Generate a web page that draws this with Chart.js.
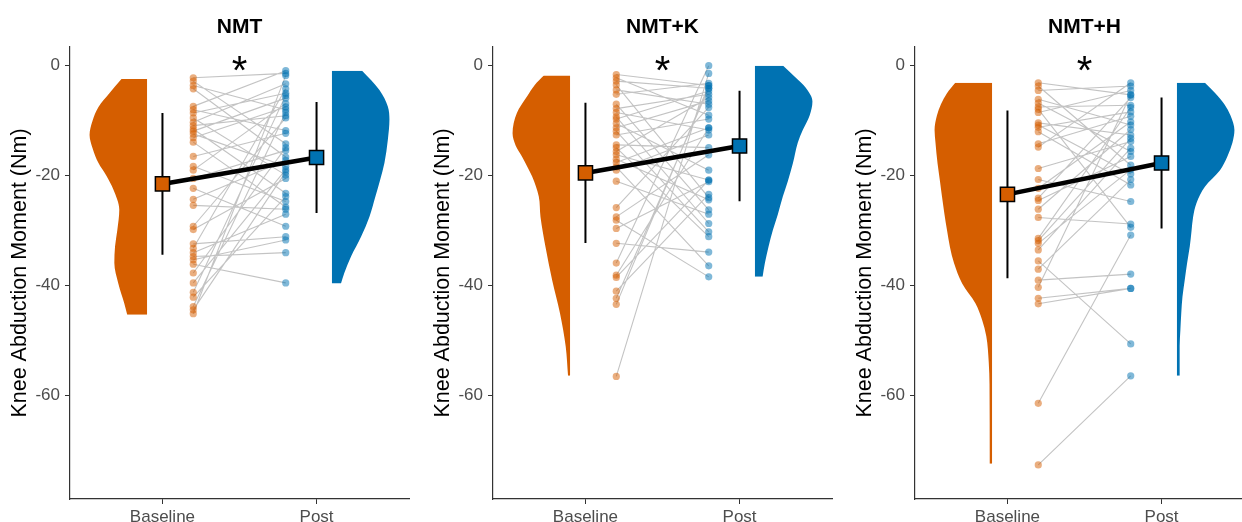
<!DOCTYPE html>
<html>
<head>
<meta charset="utf-8">
<script src="https://cdn.jsdelivr.net/npm/chart.js@4.4.1/dist/chart.umd.min.js"></script>
<style>
  html, body { margin: 0; padding: 0; background: #ffffff; width: 1242px; height: 522px; overflow: hidden; }
  .panel { position: absolute; top: 0; width: 422px; height: 522px; }
</style>
</head>
<body>
<div class="panel" style="left:0px"><canvas id="panel0" width="422" height="522"></canvas></div>
<div class="panel" style="left:423px"><canvas id="panel1" width="422" height="522"></canvas></div>
<div class="panel" style="left:845px"><canvas id="panel2" width="422" height="522"></canvas></div>
<script>
// ---- data -------------------------------------------------------------
const categories = ['Baseline', 'Post'];
const panelTitles = ['NMT', 'NMT+K', 'NMT+H'];
const significance = ['*', '*', '*'];
const yTickValues = [0, -20, -40, -60];
const yLabel = 'Knee Abduction Moment (Nm)';

// paired knee abduction moments (Nm), one entry per participant
const nmtBaseline = [-2.2, -2.8, -3.6, -4.2, -7.4, -8.0, -8.6, -9.5, -10.3, -10.9, -11.5, -11.9, -12.4, -13.1, -13.9, -16.5, -18.3, -19.0, -20.5, -22.3, -24.3, -25.4, -29.2, -29.8, -32.4, -33.2, -34.0, -34.7, -35.3, -36.1, -37.7, -39.5, -41.2, -42.1, -43.8, -44.4, -45.1];
const nmtPost     = [-1.4, -14.2, -8.0, -16.6, -0.9, -11.8, -5.0, -19.9, -3.3, -9.1, -23.2, -5.9, -18.3, -7.5, -25.7, -12.3, -24.7, -6.9, -15.4, -29.2, -17.2, -26.1, -9.5, -20.5, -31.1, -4.2, -27.0, -34.0, -31.7, -39.5, -14.9, -18.9, -5.4, -23.8, -8.5, -19.3, -1.8];

const nmtkBaseline = [-1.6, -2.2, -2.8, -3.5, -4.4, -5.2, -7.0, -7.8, -8.5, -9.3, -9.7, -10.5, -11.3, -11.9, -12.6, -14.4, -14.9, -15.6, -16.2, -17.0, -17.6, -18.4, -19.0, -21.0, -25.8, -27.5, -28.1, -29.6, -32.3, -35.9, -38.1, -38.5, -41.0, -42.3, -43.4, -56.5];
const nmtkPost     = [-3.6, -9.0, -4.1, -24.0, -7.0, -3.2, -26.2, -5.2, -11.7, -28.7, -4.6, -19.0, -6.4, -30.2, -9.7, -14.9, -31.1, -5.8, -20.8, -24.4, -11.3, -36.4, -12.6, -27.0, -7.6, -16.2, -38.4, -21.1, -33.9, 0.0, -11.3, -20.8, -23.4, -4.1, -3.6, -1.4];

const nmthBaseline = [-3.1, -3.7, -4.5, -6.1, -6.8, -7.5, -7.9, -8.5, -10.4, -10.8, -11.2, -12.0, -14.2, -14.8, -18.7, -20.7, -22.3, -24.1, -24.5, -26.1, -27.6, -31.4, -31.8, -32.3, -33.5, -35.5, -37.0, -39.0, -40.3, -42.3, -43.3, -61.4, -72.6];
const nmthPost     = [-5.3, -18.1, -3.7, -10.8, -15.6, -7.2, -29.4, -4.5, -12.6, -19.7, -8.4, -21.7, -9.2, -3.1, -13.8, -24.7, -10.2, -5.8, -16.5, -11.6, -28.8, -7.6, -13.2, -18.9, -15.0, -50.6, -20.7, -37.9, -5.3, -40.5, -40.5, -30.8, -56.4];

// group means and standard deviations
const meanBaseline = [-21.5, -19.5, -23.4];
const meanPost     = [-16.7, -14.6, -17.7];
const sdBaseline   = [12.9, 12.75, 15.25];
const sdPost       = [10.1, 10.05, 11.9];

// density profiles (relative to each group's peak) at the listed moment values
const nmtBaselineDensityAt = [-2.4, -5, -7.5, -10, -12.6, -15, -17.7, -20, -22.5, -26.2, -29.9, -32.9, -35.9, -39.6, -43.2, -45.3];
const nmtBaselineDensity   = [0.443, 0.655, 0.845, 0.948, 1, 0.948, 0.845, 0.707, 0.586, 0.483, 0.517, 0.557, 0.569, 0.5, 0.397, 0.345];
const nmtPostDensityAt = [-0.9, -4.4, -7.4, -9.8, -13.5, -17.7, -20.8, -23.8, -27.5, -31.1, -34.7, -37.7, -39.6];
const nmtPostDensity   = [0.524, 0.826, 0.972, 1, 0.972, 0.913, 0.838, 0.756, 0.651, 0.506, 0.332, 0.215, 0.157];

const nmtkBaselineDensityAt = [-1.8, -3.5, -5.6, -8.6, -12.3, -14.5, -16.5, -18.5, -20.1, -23.8, -27.5, -33, -39, -45, -51.1, -56.4];
const nmtkBaselineDensity   = [0.456, 0.614, 0.749, 0.925, 1, 0.947, 0.837, 0.737, 0.661, 0.544, 0.514, 0.426, 0.311, 0.175, 0.075, 0.035];
const nmtkPostDensityAt = [0, -2, -4, -6.5, -9, -11.7, -14, -17.8, -21, -23.8, -27, -29.9, -33, -35.9, -38.4];
const nmtkPostDensity   = [0.49, 0.693, 0.884, 1, 0.953, 0.832, 0.745, 0.659, 0.572, 0.485, 0.399, 0.312, 0.234, 0.173, 0.133];

const nmthBaselineDensityAt = [-3.1, -5, -7, -9, -11.7, -14, -17.8, -21, -23.8, -27, -29.9, -33, -35.9, -39.6, -43.2, -46.2, -49.2, -54, -58, -72.4];
const nmthBaselineDensity   = [0.639, 0.784, 0.889, 0.958, 1, 0.984, 0.948, 0.906, 0.871, 0.828, 0.784, 0.732, 0.662, 0.52, 0.29, 0.174, 0.1, 0.057, 0.044, 0.04];
const nmthPostDensityAt = [-3.1, -5, -7, -9, -11.7, -14, -16.5, -19, -22, -25, -27.5, -30, -32.9, -36, -39, -42, -45, -48, -51, -56.4];
const nmthPostDensity   = [0.486, 0.667, 0.825, 0.93, 1, 0.965, 0.877, 0.749, 0.486, 0.339, 0.281, 0.254, 0.223, 0.175, 0.135, 0.096, 0.075, 0.06, 0.047, 0.047];

// ---- styling / geometry -----------------------------------------------
const FONT = '"Liberation Sans", Arial, Helvetica, sans-serif';
const ORANGE = '#D55E00';
const BLUE = '#0072B2';
const ORANGE_DOT = 'rgba(213, 94, 0, 0.5)';
const BLUE_DOT = 'rgba(0, 114, 178, 0.5)';
const PAIR_LINE = 'rgba(175, 175, 175, 0.75)';
const AXIS_COLOR = '#333333';
const TICK_TEXT = '#4D4D4D';
const Y_MIN = -78.8, Y_MAX = 3.4;
const X_MIN = 0.4, X_MAX = 2.6;
const VIOLIN_HALF = 0.373;      // half-violin width at peak density, x units
const BASE_VIOLIN_EDGE = 0.9;   // flat side of the baseline half-violin
const POST_VIOLIN_EDGE = 2.1;   // flat side of the post half-violin
const BASE_DOT_X = 1.2;
const POST_DOT_X = 1.8;

Chart.defaults.font.family = FONT;
Chart.defaults.animation = false;

const panels = [
  { base: nmtBaseline,  post: nmtPost,  bAt: nmtBaselineDensityAt,  bD: nmtBaselineDensity,  pAt: nmtPostDensityAt,  pD: nmtPostDensity },
  { base: nmtkBaseline, post: nmtkPost, bAt: nmtkBaselineDensityAt, bD: nmtkBaselineDensity, pAt: nmtkPostDensityAt, pD: nmtkPostDensity },
  { base: nmthBaseline, post: nmthPost, bAt: nmthBaselineDensityAt, bD: nmthBaselineDensity, pAt: nmthPostDensityAt, pD: nmthPostDensity }
];

// outline of a half violin; the fill runs horizontally back to the flat edge
function violinOutline(levels, density, edge, side) {
  return levels.map((y, i) => ({ x: edge + side * density[i] * VIOLIN_HALF, y }));
}

function pairLines(base, post) {
  const pts = [];
  base.forEach((b, i) => {
    pts.push({ x: BASE_DOT_X, y: b });
    pts.push({ x: POST_DOT_X, y: post[i] });
    pts.push({ x: 1.5, y: null });
  });
  return pts;
}

// panel title and significance marker, centred over the plotting area
const panelText = {
  id: 'panelText',
  afterDraw(chart, args, opts) {
    const { ctx, chartArea, scales } = chart;
    const cx = (chartArea.left + chartArea.right) / 2;
    ctx.save();
    ctx.fillStyle = '#000000';
    ctx.textAlign = 'center';
    ctx.textBaseline = 'alphabetic';
    ctx.font = 'bold 21px ' + FONT;
    ctx.fillText(opts.title, cx, 33);
    ctx.font = '40px ' + FONT;
    ctx.fillText(opts.mark, scales.x.getPixelForValue(1.5), scales.y.getPixelForValue(0) + 18);
    ctx.restore();
  }
};

panels.forEach((p, k) => {
  const violin = (levels, dens, edge, side, color) => ({
    data: violinOutline(levels, dens, edge, side),
    indexAxis: 'y',
    cubicInterpolationMode: 'monotone',
    borderWidth: 0, borderColor: color, backgroundColor: color,
    fill: { value: edge }, pointRadius: 0, order: 5
  });

  const datasets = [
    { // mean markers
      data: [{ x: 1, y: meanBaseline[k] }, { x: 2, y: meanPost[k] }],
      showLine: false, pointStyle: 'rect', pointRadius: 10,
      pointBackgroundColor: [ORANGE, BLUE], pointBorderColor: '#000000', pointBorderWidth: 1.5,
      order: 0
    },
    { // line joining the means
      data: [{ x: 1, y: meanBaseline[k] }, { x: 2, y: meanPost[k] }],
      borderColor: '#000000', borderWidth: 4.5, pointRadius: 0, order: 1
    },
    { // +/- 1 SD whiskers
      data: [
        { x: 1, y: meanBaseline[k] + sdBaseline[k] }, { x: 1, y: meanBaseline[k] - sdBaseline[k] }, { x: 1.5, y: null },
        { x: 2, y: meanPost[k] + sdPost[k] }, { x: 2, y: meanPost[k] - sdPost[k] }
      ],
      borderColor: '#000000', borderWidth: 2, pointRadius: 0, order: 2
    },
    { // baseline observations
      data: p.base.map(v => ({ x: BASE_DOT_X, y: v })),
      showLine: false, pointRadius: 3.6, pointBackgroundColor: ORANGE_DOT, pointBorderWidth: 0, order: 3
    },
    { // post observations
      data: p.post.map(v => ({ x: POST_DOT_X, y: v })),
      showLine: false, pointRadius: 3.6, pointBackgroundColor: BLUE_DOT, pointBorderWidth: 0, order: 3
    },
    { // within-participant change
      data: pairLines(p.base, p.post),
      borderColor: PAIR_LINE, borderWidth: 1.1, pointRadius: 0, spanGaps: false, order: 4
    },
    violin(p.bAt, p.bD, BASE_VIOLIN_EDGE, -1, ORANGE),
    violin(p.pAt, p.pD, POST_VIOLIN_EDGE, 1, BLUE)
  ];

  new Chart(document.getElementById('panel' + k), {
    type: 'line',
    data: { datasets },
    plugins: [panelText],
    options: {
      responsive: false,
      animation: false,
      events: [],
      layout: { autoPadding: false, padding: { top: 47, right: 13, bottom: 0, left: 0 } },
      elements: { line: { tension: 0 } },
      plugins: {
        legend: { display: false },
        tooltip: { enabled: false },
        panelText: { title: panelTitles[k], mark: significance[k] }
      },
      scales: {
        x: {
          type: 'linear', min: X_MIN, max: X_MAX,
          afterBuildTicks: s => { s.ticks = categories.map((c, i) => ({ value: i + 1 })); },
          afterFit: s => { s.height = 23; },
          ticks: {
            color: TICK_TEXT, font: { size: 17, family: FONT }, padding: 3,
            autoSkip: false, maxRotation: 0, minRotation: 0,
            callback: (v, i) => categories[i]
          },
          grid: { drawOnChartArea: false, drawTicks: true, tickLength: 5, color: AXIS_COLOR, tickWidth: 1 },
          border: { display: true, color: AXIS_COLOR, width: 1.2 }
        },
        y: {
          type: 'linear', min: Y_MIN, max: Y_MAX,
          afterBuildTicks: s => { s.ticks = yTickValues.map(v => ({ value: v })); },
          afterFit: s => { s.width = 70; },
          ticks: {
            color: TICK_TEXT, font: { size: 17, family: FONT }, padding: 5, autoSkip: false,
            callback: v => String(v)
          },
          grid: { drawOnChartArea: false, drawTicks: true, tickLength: 5, color: AXIS_COLOR, tickWidth: 1 },
          border: { display: true, color: AXIS_COLOR, width: 1.2 },
          title: {
            display: true, text: yLabel, color: '#000000',
            font: { size: 21.5, family: FONT }, padding: { top: 7, bottom: 0 }
          }
        }
      }
    }
  });
});
</script>
</body>
</html>
